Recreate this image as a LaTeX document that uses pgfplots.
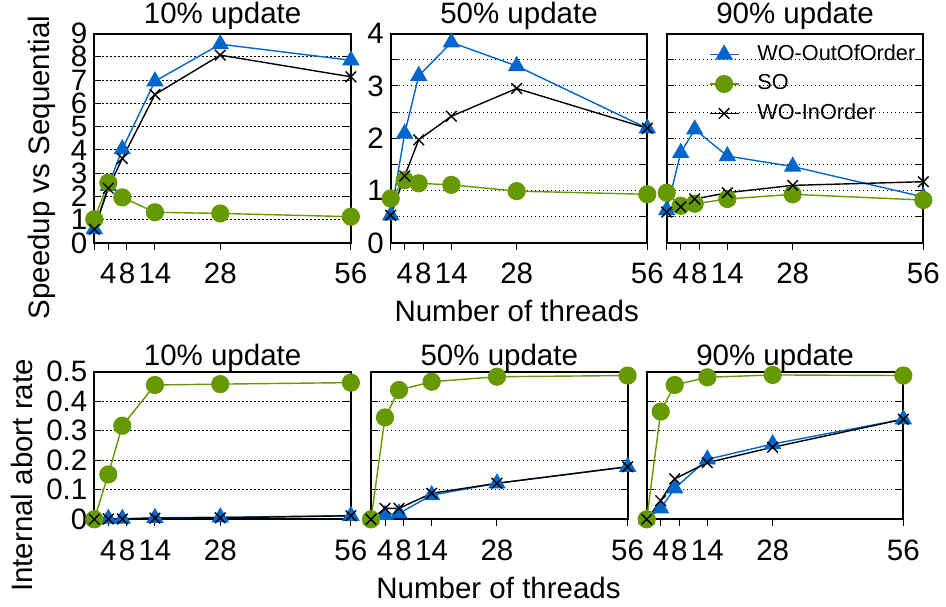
\documentclass[border=0pt]{standalone}
\usepackage{fontspec}
\setmainfont{Liberation Sans}
\usepackage{pgfplots}
\pgfplotsset{compat=1.18}
\definecolor{cblue}{RGB}{0,102,204}
\definecolor{cgreen}{RGB}{102,153,0}
\newcommand\fs{\fontsize{14.75bp}{17bp}\selectfont}
\newcommand\lfs{\fontsize{10.85bp}{13bp}\selectfont}

\pgfplotsset{
  base/.style={
    scale only axis, width=128.3bp, anchor=south west, clip=false,
    xmin=1, xmax=56, xtick={1,4,8,14,28,56}, xticklabels={,4,8,14,28,56},
    xtick pos=left, ytick pos=both, xtick align=outside, ytick align=inside,
    major tick length=3.5bp, minor tick length=3.5bp,
    tick style={black, line width=0.5bp},
    axis line style={line width=1bp},
    ymajorgrids, grid style={black, line width=0.5bp, dash pattern=on 0.6bp off 1.4bp},
    tick label style={font=\fs},
    /pgf/number format/assume math mode=true,
    label style={font=\fs},
    title style={font=\fs, at={(0.5,1)}, anchor=base},
    xticklabel style={anchor=base, yshift=-17bp},
    every axis plot/.append style={line width=0.7bp},
  },
  top/.style={base, height=104.75bp, ymin=0, title style={yshift=-1bp}},
  bot/.style={base, height=73.8bp, ymin=0, ymax=0.5, ytick={0,0.1,0.2,0.3,0.4,0.5},
    title style={yshift=-3.1bp}, yticklabel style={/pgf/number format/fixed}},
  ooo/.style={cblue, mark=triangle*, mark size=4.33bp, mark options={solid}},
  so/.style={cgreen, mark=*, mark size=4.2bp},
  ino/.style={black, mark=x, mark size=3.75bp},
}

\begin{document}
\begin{tikzpicture}
\useasboundingbox (0,0) rectangle (473bp,303.5bp);

% ---------- top row: speedup ----------
\begin{axis}[top, at={(47.15bp,182bp)}, ymax=9, ytick={0,1,...,9},
  title={10\% update},
  ylabel={Speedup vs Sequential},
  ylabel style={at={(rel axis cs:-0.206,0.36)}, anchor=center}]
\addplot[ooo] coordinates {(1,0.60) (4,2.45) (7,4.03) (14,6.95) (28,8.54) (56,7.85)};
\addplot[so]  coordinates {(1,1.02) (4,2.59) (7,1.96) (14,1.32) (28,1.27) (56,1.13)};
\addplot[ino] coordinates {(1,0.59) (4,2.35) (7,3.63) (14,6.38) (28,8.07) (56,7.14)};
\end{axis}

\begin{axis}[top, at={(195.35bp,182bp)}, ymax=4, ytick={0,0.5,...,4},
  yticklabels={0,,1,,2,,3,,4},
  title={50\% update},
  xlabel={Number of threads},
  xlabel style={at={(rel axis cs:0.491,-0.325)}, anchor=center}]
\addplot[ooo] coordinates {(1,0.53) (4,2.09) (7,3.19) (14,3.83) (28,3.38) (56,2.19)};
\addplot[so]  coordinates {(1,0.85) (4,1.20) (7,1.14) (14,1.11) (28,0.99) (56,0.93)};
\addplot[ino] coordinates {(1,0.53) (4,1.28) (7,1.97) (14,2.42) (28,2.95) (56,2.19)};
\end{axis}

\begin{axis}[top, at={(333.35bp,182bp)}, ymax=4, ytick={0,0.5,...,4},
  yticklabels={},
  title={90\% update},
  legend style={at={(rel axis cs:0.163,0.959)}, anchor=north west, draw=none, fill=none,
    font=\lfs, inner sep=0pt, row sep=2.75bp, column sep=8bp,
    nodes={inner sep=1bp, text height=8bp, text depth=2bp}, cells={anchor=west}},
  legend image code/.code={\draw[mark repeat=2,mark phase=2] plot coordinates {(0bp,0bp)(7.25bp,0bp)(14.5bp,0bp)};}]
\addplot[ooo] coordinates {(1,0.63) (4,1.72) (7,2.17) (14,1.66) (28,1.46) (56,0.88)};
\addplot[so]  coordinates {(1,0.96) (4,0.71) (7,0.75) (14,0.84) (28,0.93) (56,0.82)};
\addplot[ino] coordinates {(1,0.59) (4,0.69) (7,0.84) (14,0.96) (28,1.10) (56,1.17)};
\legend{WO-OutOfOrder, SO, WO-InOrder}
\end{axis}

% ---------- bottom row: abort rate ----------
\begin{axis}[bot, at={(47.15bp,43.85bp)},
  title={10\% update},
  ylabel={Internal abort rate},
  ylabel style={at={(rel axis cs:-0.283,0.297)}, anchor=center}]
\addplot[ooo] coordinates {(1,0) (4,0.002) (7,0.002) (14,0.005) (28,0.007) (56,0.012)};
\addplot[so]  coordinates {(1,0) (4,0.152) (7,0.317) (14,0.455) (28,0.458) (56,0.463)};
\addplot[ino] coordinates {(1,0) (4,0.001) (7,0.001) (14,0.004) (28,0.005) (56,0.012)};
\end{axis}

\begin{axis}[bot, at={(185.5bp,43.85bp)}, yticklabels={},
  title={50\% update},
  xlabel={Number of threads},
  xlabel style={at={(rel axis cs:0.497,-0.465)}, anchor=center}]
\addplot[ooo] coordinates {(1,0) (4,0.015) (7,0.020) (14,0.082) (28,0.122) (56,0.178)};
\addplot[so]  coordinates {(1,0) (4,0.345) (7,0.438) (14,0.466) (28,0.483) (56,0.487)};
\addplot[ino] coordinates {(1,0) (4,0.037) (7,0.037) (14,0.088) (28,0.122) (56,0.178)};
\end{axis}

\begin{axis}[bot, at={(323.35bp,43.85bp)}, yticklabels={},
  title={90\% update}]
\addplot[ooo] coordinates {(1,0) (4,0.037) (7,0.105) (14,0.203) (28,0.255) (56,0.339)};
\addplot[so]  coordinates {(1,0) (4,0.365) (7,0.455) (14,0.481) (28,0.489) (56,0.487)};
\addplot[ino] coordinates {(1,0) (4,0.063) (7,0.137) (14,0.192) (28,0.244) (56,0.339)};
\end{axis}
\end{tikzpicture}
\end{document}
